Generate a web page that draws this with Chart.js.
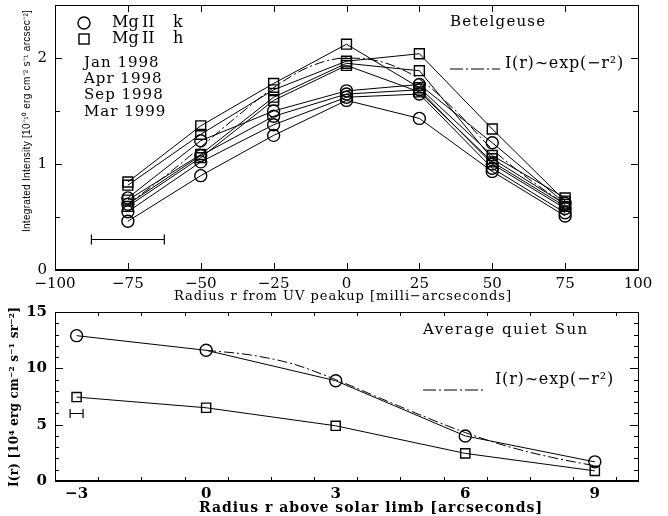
<!DOCTYPE html>
<html>
<head>
<meta charset="utf-8">
<script src="https://cdn.jsdelivr.net/npm/chart.js@4/dist/chart.umd.min.js"></script>
<style>
  body { margin: 0; background: #fff; }
  #wrap { position: relative; width: 668px; height: 516px; }
  canvas { position: absolute; left: 0; }
  #topChart { top: 0; }
  #sunChart { top: 300px; }
</style>
</head>
<body>
<div id="wrap">
  <canvas id="topChart" width="668" height="306"></canvas>
  <canvas id="sunChart" width="668" height="216"></canvas>
</div>
<script>
// Betelgeuse: radius from UV peakup [milli-arcseconds]
const radiusMas = [-75, -50, -25, 0, 25, 50, 75];
// Mg II h (squares), four epochs
const hJan98 = [0.83, 1.36, 1.76, 2.13, 1.72, 1.08, 0.68];
const hApr98 = [0.80, 1.28, 1.70, 1.97, 2.04, 1.33, 0.65];
const hSep98 = [0.66, 1.09, 1.63, 1.95, 1.88, 1.05, 0.62];
const hMar99 = [0.60, 1.06, 1.60, 1.93, 1.68, 1.02, 0.60];
// Mg II k (circles), four epochs
const kJan98 = [0.68, 1.22, 1.50, 1.69, 1.75, 1.20, 0.63];
const kApr98 = [0.62, 1.08, 1.45, 1.66, 1.70, 1.00, 0.58];
const kSep98 = [0.55, 1.02, 1.37, 1.63, 1.66, 0.96, 0.54];
const kMar99 = [0.46, 0.89, 1.27, 1.60, 1.43, 0.93, 0.51];
// I(r) ~ exp(-r^2) curve
const fitMas = [-75, -62.5, -50, -37.5, -25, -12.5, 0, 12.5, 25, 37.5, 50, 62.5, 75];
const fitMasI = [0.62, 0.88, 1.16, 1.45, 1.72, 1.92, 2.0, 1.96, 1.80, 1.50, 1.14, 0.86, 0.62];
const errMasX = [-87.5, -62.5];
const errMasY = 0.29;
const epochs = ["Jan 1998", "Apr 1998", "Sep 1998", "Mar 1999"];

// Average quiet Sun: radius above solar limb [arcseconds]
const sunR = [-3, 0, 3, 6, 9];
const sunK = [12.9, 11.6, 8.9, 4.0, 1.7];
const sunH = [7.45, 6.5, 4.9, 2.45, 0.9];
const sunFitR = [0, 1, 2, 3, 4, 5, 6, 7, 8, 9];
const sunFitI = [11.6, 11.2, 10.4, 9.0, 7.4, 5.8, 4.3, 3.05, 2.1, 1.35];
const errSunX = [-3.15, -2.85];
const errSunY = 6.05;

const serif = "'DejaVu Serif'";
const dashDot = [10, 3, 2, 3];

function pts(xs, ys) {
    return xs.map((x, i) => ({ x: x, y: ys[i] }));
}

function series(xs, ys, shape, radius) {
    return {
        data: pts(xs, ys),
        borderColor: '#000',
        borderWidth: 1,
        pointStyle: shape,
        pointRadius: radius,
        pointBorderWidth: 1.4,
        pointBorderColor: '#000',
        pointBackgroundColor: 'rgba(0,0,0,0)',
        tension: 0
    };
}

function fitLine(xs, ys) {
    return {
        data: pts(xs, ys),
        borderColor: '#000',
        borderWidth: 1,
        borderDash: dashDot,
        pointRadius: 0,
        tension: 0.4,
        cubicInterpolationMode: 'monotone'
    };
}

function minus(v) {
    return String(v).replace('-', '\u2212');
}

// inward ticks on all four sides plus the box
function drawFrame(chart, xt, yt) {
    const ctx = chart.ctx, a = chart.chartArea;
    const xs = chart.scales.x, ys = chart.scales.y;
    ctx.save();
    ctx.strokeStyle = '#000';
    ctx.lineWidth = 1;
    ctx.strokeRect(a.left + 0.5, a.top + 0.5, a.right - a.left, a.bottom - a.top);
    ctx.lineWidth = 2;
    ctx.beginPath();
    ctx.moveTo(a.left, a.bottom);
    ctx.lineTo(a.right + 1, a.bottom);
    ctx.stroke();
    ctx.lineWidth = 1;
    ctx.beginPath();
    for (let v = xs.min; v <= xs.max + 1e-9; v += xt.minor) {
        let isMajor = Math.abs(((v - xt.base) / xt.major) - Math.round((v - xt.base) / xt.major)) < 1e-6;
        let len = isMajor ? xt.bigLen : xt.smallLen;
        let px = Math.round(xs.getPixelForValue(v)) + 0.5;
        ctx.moveTo(px, a.bottom);
        ctx.lineTo(px, a.bottom - len);
        ctx.moveTo(px, a.top);
        ctx.lineTo(px, a.top + len);
    }
    for (let v = ys.min; v <= ys.max + 1e-9; v += yt.minor) {
        let isMajor = Math.abs((v / yt.major) - Math.round(v / yt.major)) < 1e-6;
        let len = isMajor ? yt.bigLen : yt.smallLen;
        let py = Math.round(ys.getPixelForValue(v)) + 0.5;
        ctx.moveTo(a.left, py);
        ctx.lineTo(a.left + len, py);
        ctx.moveTo(a.right, py);
        ctx.lineTo(a.right - len, py);
    }
    ctx.stroke();
    ctx.restore();
}

function drawErrBar(chart, xr, y, cap) {
    const ctx = chart.ctx;
    const x0 = chart.scales.x.getPixelForValue(xr[0]);
    const x1 = chart.scales.x.getPixelForValue(xr[1]);
    const py = Math.round(chart.scales.y.getPixelForValue(y)) + 0.5;
    ctx.save();
    ctx.strokeStyle = '#000';
    ctx.lineWidth = 1.2;
    ctx.beginPath();
    ctx.moveTo(x0, py); ctx.lineTo(x1, py);
    ctx.moveTo(x0, py - cap); ctx.lineTo(x0, py + cap);
    ctx.moveTo(x1, py - cap); ctx.lineTo(x1, py + cap);
    ctx.stroke();
    ctx.restore();
}

function text(ctx, str, x, y, font, align, spacing) {
    ctx.font = font;
    ctx.textAlign = align || 'left';
    ctx.textBaseline = 'middle';
    ctx.letterSpacing = spacing || '0px';
    ctx.fillText(str, x, y);
}

function legendDash(ctx, x0, x1, y) {
    ctx.save();
    ctx.strokeStyle = '#000';
    ctx.lineWidth = 1;
    ctx.setLineDash([13, 3, 2, 3]);
    ctx.beginPath();
    ctx.moveTo(x0, y);
    ctx.lineTo(x1, y);
    ctx.stroke();
    ctx.restore();
}

const topDecor = {
    id: 'topDecor',
    afterDraw(chart) {
        const ctx = chart.ctx;
        drawFrame(chart,
            { base: 0, major: 25, minor: 25, bigLen: 7, smallLen: 7 },
            { major: 1, minor: 0.5, bigLen: 7, smallLen: 5 });
        drawErrBar(chart, errMasX, errMasY, 5);
        ctx.save();
        ctx.fillStyle = '#000';
        ctx.strokeStyle = '#000';
        ctx.lineWidth = 1.4;
        ctx.beginPath();
        ctx.arc(84, 23, 6, 0, Math.PI * 2);
        ctx.stroke();
        ctx.strokeRect(79, 34, 10, 10);
        const f = '16px ' + serif;
        text(ctx, 'Mg', 112, 23, f, 'left', '0px');
        text(ctx, 'II', 142, 23, f, 'left', '0px');
        text(ctx, 'k', 173, 23, f, 'left', '0px');
        text(ctx, 'Mg', 112, 39, f, 'left', '0px');
        text(ctx, 'II', 142, 39, f, 'left', '0px');
        text(ctx, 'h', 173, 39, f, 'left', '0px');
        const g = '15px ' + serif;
        epochs.forEach((e, i) => text(ctx, e, 84, 63 + i * 16.3, g, 'left', '1px'));
        text(ctx, 'Betelgeuse', 450, 22, g, 'left', '1.2px');
        legendDash(ctx, 450, 500, 69);
        text(ctx, 'I(r)~exp(\u2212r\u00b2)', 505, 64, '16px ' + serif, 'left', '0.8px');
        text(ctx, 'Radius r from UV peakup [milli\u2212arcseconds]', 343, 297, '13px ' + serif, 'center', '1px');
        ctx.translate(27, 121);
        ctx.rotate(-Math.PI / 2);
        text(ctx, 'Integrated Intensity [10\u207b\u00b9\u2070 erg cm\u207b\u00b2 s\u207b\u00b9 arcsec\u207b\u00b2]', 0, 0,
            "10px 'Liberation Sans'", 'center', '0.3px');
        ctx.restore();
    }
};

const sunDecor = {
    id: 'sunDecor',
    afterDraw(chart) {
        const ctx = chart.ctx;
        drawFrame(chart,
            { base: 0, major: 3, minor: 1, bigLen: 8, smallLen: 4 },
            { major: 5, minor: 1, bigLen: 8, smallLen: 4 });
        drawErrBar(chart, errSunX, errSunY, 4.5);
        ctx.save();
        ctx.fillStyle = '#000';
        text(ctx, 'Average quiet Sun', 423, 30, '15px ' + serif, 'left', '1.5px');
        legendDash(ctx, 423, 483, 90);
        text(ctx, 'I(r)~exp(\u2212r\u00b2)', 495, 80, '16px ' + serif, 'left', '0.8px');
        text(ctx, 'Radius r above solar limb [arcseconds]', 371, 208, 'bold 14px ' + serif, 'center', '1px');
        ctx.translate(15, 97);
        ctx.rotate(-Math.PI / 2);
        text(ctx, 'I(r) [10\u2074 erg cm\u207b\u00b2 s\u207b\u00b9 sr\u207b\u00b2]', 0, 0, 'bold 12px ' + serif, 'center', '0.2px');
        ctx.restore();
    }
};

function baseScale(min, max, tickValues, pad, size, weight) {
    return {
        type: 'linear',
        min: min,
        max: max,
        grid: { display: false, drawTicks: false },
        border: { display: false },
        afterBuildTicks: s => { s.ticks = tickValues.map(v => ({ value: v })); },
        // fixed box sizes, no extra room for edge labels
        afterFit: s => {
            if (s.isHorizontal()) s.height = size; else s.width = size;
            s.paddingTop = 0; s.paddingBottom = 0;
            s.paddingLeft = 0; s.paddingRight = 0;
        },
        ticks: {
            color: '#000',
            padding: pad,
            autoSkip: false,
            maxRotation: 0,
            font: { family: 'DejaVu Serif', size: 15, weight: weight },
            callback: v => minus(v)
        }
    };
}

function buildTop() {
    const ctx = document.getElementById('topChart');
    new Chart(ctx, {
        type: 'line',
        data: {
            datasets: [
                series(radiusMas, hJan98, 'rect', 7),
                series(radiusMas, hApr98, 'rect', 7),
                series(radiusMas, hSep98, 'rect', 7),
                series(radiusMas, hMar99, 'rect', 7),
                series(radiusMas, kJan98, 'circle', 6),
                series(radiusMas, kApr98, 'circle', 6),
                series(radiusMas, kSep98, 'circle', 6),
                series(radiusMas, kMar99, 'circle', 6),
                fitLine(fitMas, fitMasI)
            ]
        },
        options: {
            responsive: false,
            animation: false,
            devicePixelRatio: 1,
            layout: { autoPadding: false, padding: { top: 5, right: 30, left: 0, bottom: 0 } },
            plugins: { legend: { display: false }, tooltip: { enabled: false } },
            scales: {
                x: baseScale(-100, 100, [-100, -75, -50, -25, 0, 25, 50, 75, 100], 5, 36, 'normal'),
                y: baseScale(0, 2.5, [0, 1, 2], 8, 55, 'normal')
            }
        },
        plugins: [topDecor]
    });
}

function buildSun() {
    const ctx = document.getElementById('sunChart');
    new Chart(ctx, {
        type: 'line',
        data: {
            datasets: [
                series(sunR, sunK, 'circle', 6),
                series(sunR, sunH, 'rect', 6.5),
                fitLine(sunFitR, sunFitI)
            ]
        },
        options: {
            responsive: false,
            animation: false,
            devicePixelRatio: 1,
            layout: { autoPadding: false, padding: { top: 12, right: 30, left: 0, bottom: 0 } },
            plugins: { legend: { display: false }, tooltip: { enabled: false } },
            scales: {
                x: baseScale(-3.5, 10, [-3, 0, 3, 6, 9], 4, 35, 'bold'),
                y: baseScale(0, 15, [0, 5, 10, 15], 8, 55, 'bold')
            }
        },
        plugins: [sunDecor]
    });
}

buildTop();
buildSun();
</script>
</body>
</html>
